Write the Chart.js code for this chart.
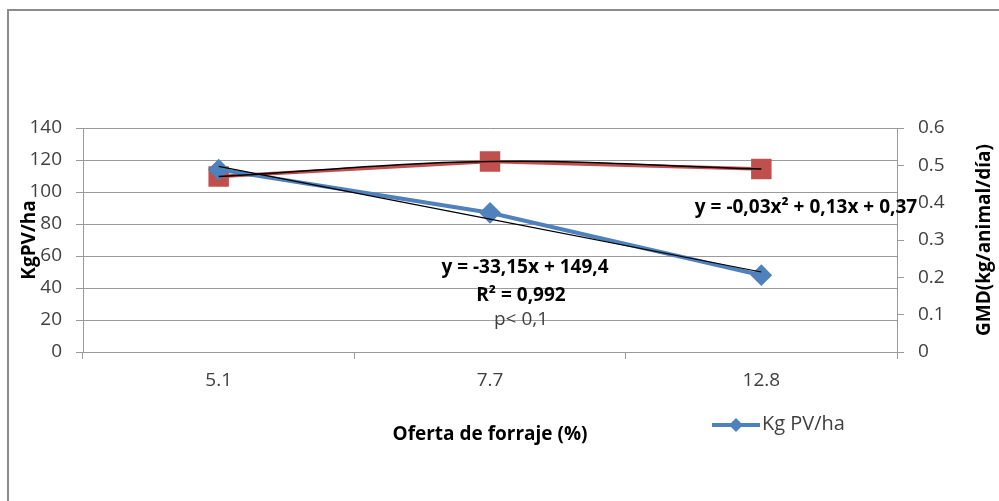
<!DOCTYPE html>
<html lang="es">
<head>
<meta charset="utf-8">
<script src="https://cdn.jsdelivr.net/npm/chart.js@4.4.1/dist/chart.umd.min.js"></script>
<style>
  html, body { margin: 0; padding: 0; background: #fff; }
  #marco { position: absolute; left: 0; top: 0; width: 999px; height: 501px; overflow: hidden; }
  #borde { position: absolute; left: 7px; top: 9px; width: 1000px; height: 600px; border-top: 2px solid #8c8c8c; border-left: 2px solid #8c8c8c; }
  canvas { position: absolute; left: 0; top: 0; }
</style>
</head>
<body>
<div id="marco">
  <div id="borde"></div>
  <canvas id="grafico" width="999" height="501"></canvas>
</div>
<script>
// datos
const categorias = ['5.1', '7.7', '12.8'];
const kgPvHa = [114, 87, 48];
const gmd = [0.47, 0.51, 0.49];
// líneas de tendencia
const tendenciaKg = [116, 83, 50];
const tendenciaGmd = [0.47, 0.51, 0.49];
// marcas de los ejes
const ticksIzq = [0, 20, 40, 60, 80, 100, 120, 140];
const ticksDer = [0, 0.1, 0.2, 0.3, 0.4, 0.5, 0.6];
const etiquetasDer = ['0', '0.1', '0.2', '0.3', '0.4', '0.5', '0.6'];

const FUENTE = '"Open Sans", Lato, sans-serif';
const AZUL = '#4f81bd';
const ROJO = '#c0504d';
const GRIS = '#9a9a9a';

// textos sueltos: ecuaciones, título del eje derecho y leyenda
const textosExtra = {
  id: 'textosExtra',
  afterDraw(chart) {
    const ctx = chart.ctx;
    ctx.save();
    ctx.fillStyle = '#000';
    ctx.textAlign = 'center';
    ctx.textBaseline = 'middle';
    ctx.font = 'bold 19px ' + FUENTE;
    ctx.fillText('y = -33,15x + 149,4', 525, 268);
    ctx.fillText('R² = 0,992', 521, 296);
    ctx.fillText('y = -0,03x² + 0,13x + 0,37', 806, 208);
    ctx.font = '19px ' + FUENTE;
    ctx.fillStyle = '#404040';
    ctx.fillText('p< 0,1', 521, 320);

    // título eje derecho
    ctx.save();
    ctx.translate(985, 240);
    ctx.rotate(-Math.PI / 2);
    ctx.fillStyle = '#000';
    ctx.font = 'bold 19px ' + FUENTE;
    ctx.fillText('GMD(kg/animal/día)', 0, 0);
    ctx.restore();

    // leyenda
    ctx.strokeStyle = AZUL;
    ctx.lineWidth = 4;
    ctx.beginPath();
    ctx.moveTo(712, 425);
    ctx.lineTo(760, 425);
    ctx.stroke();
    ctx.fillStyle = AZUL;
    ctx.beginPath();
    ctx.moveTo(736, 418);
    ctx.lineTo(743, 425);
    ctx.lineTo(736, 432);
    ctx.lineTo(729, 425);
    ctx.closePath();
    ctx.fill();
    ctx.fillStyle = '#404040';
    ctx.textAlign = 'left';
    ctx.font = '20px ' + FUENTE;
    ctx.fillText('Kg PV/ha', 762, 424);
    ctx.restore();
  }
};

const ctx = document.getElementById('grafico').getContext('2d');
new Chart(ctx, {
  type: 'line',
  data: {
    labels: categorias,
    datasets: [
      { label: 'tendencia Kg', data: tendenciaKg, yAxisID: 'y', borderColor: '#000', borderWidth: 1.2, pointRadius: 0, fill: false },
      { label: 'tendencia GMD', data: tendenciaGmd, yAxisID: 'y1', borderColor: '#000', borderWidth: 1.5, pointRadius: 0, tension: 0.4, fill: false },
      { label: 'Kg PV/ha', data: kgPvHa, yAxisID: 'y', borderColor: AZUL, backgroundColor: AZUL, borderWidth: 4, pointStyle: 'rectRot', pointRadius: 8, fill: false },
      { label: 'GMD', data: gmd, yAxisID: 'y1', borderColor: ROJO, backgroundColor: ROJO, borderWidth: 3.5, pointStyle: 'rect', pointRadius: 12, fill: false }
    ]
  },
  options: {
    responsive: false,
    animation: false,
    devicePixelRatio: 1,
    layout: { padding: { left: 8, right: 0, top: 128, bottom: 0 } },
    plugins: { legend: { display: false }, tooltip: { enabled: false } },
    scales: {
      x: {
        offset: true,
        afterFit: s => { s.height = 149; },
        grid: { offset: true, drawOnChartArea: false, color: GRIS, tickLength: 7 },
        border: { color: GRIS },
        ticks: { color: '#404040', font: { family: FUENTE, size: 19 }, padding: 10 },
        title: { display: true, text: 'Oferta de forraje (%)', color: '#000', font: { family: FUENTE, size: 19, weight: 'bold' }, padding: { top: 0, bottom: 55 } }
      },
      y: {
        position: 'left',
        min: 0, max: 140,
        afterFit: s => { s.width = 75; },
        afterBuildTicks: s => { s.ticks = ticksIzq.map(v => ({ value: v })); },
        grid: { color: GRIS, tickLength: 7 },
        border: { color: GRIS },
        ticks: { color: '#404040', font: { family: FUENTE, size: 19 }, padding: 14 },
        title: { display: true, text: 'KgPV/ha', color: '#000', font: { family: FUENTE, size: 19, weight: 'bold' }, padding: { top: 10, bottom: 0 } }
      },
      y1: {
        position: 'right',
        min: 0, max: 0.6,
        afterFit: s => { s.width = 102; },
        afterBuildTicks: s => { s.ticks = ticksDer.map(v => ({ value: v })); },
        grid: { drawOnChartArea: false, color: GRIS, tickLength: 7 },
        border: { color: GRIS },
        ticks: { color: '#404040', font: { family: FUENTE, size: 19 }, padding: 14, callback: (v, i) => etiquetasDer[i] }
      }
    }
  },
  plugins: [textosExtra]
});
</script>
</body>
</html>
